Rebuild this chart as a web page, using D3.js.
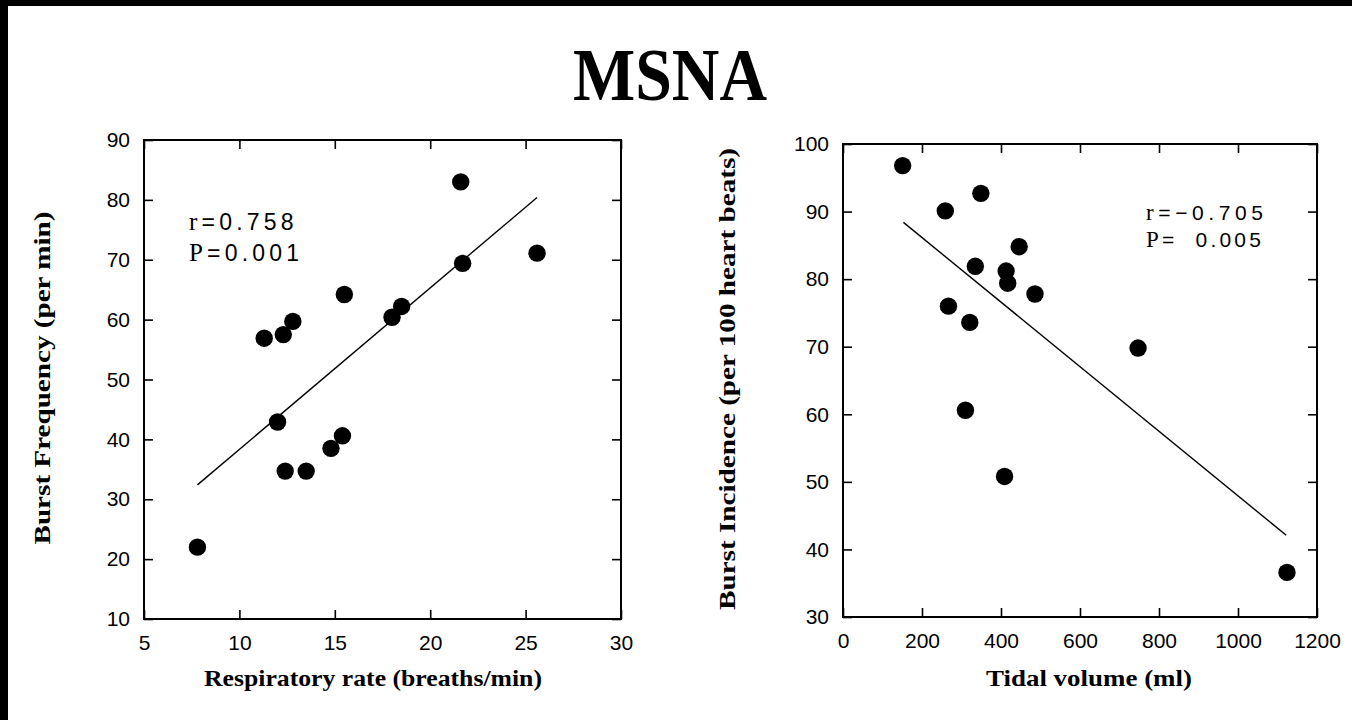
<!DOCTYPE html>
<html>
<head>
<meta charset="utf-8">
<script src="https://cdn.jsdelivr.net/npm/d3@7"></script>
<style>
  html, body { margin: 0; padding: 0; background: #fff; }
  svg { display: block; }
  text { fill: #000; }
</style>
</head>
<body>
<svg id="chart" width="1352" height="720"></svg>
<script>
// Panel A: respiratory rate vs burst frequency
const respRate   = [21.6, 25.6, 21.7, 15.5, 18.5, 18.0, 12.8, 12.3, 11.3, 12.0, 15.4, 14.8, 12.4, 13.5, 7.8];
const burstFreq  = [83.0, 71.1, 69.4, 64.2, 62.2, 60.4, 59.7, 57.5, 56.9, 42.9, 40.6, 38.5, 34.7, 34.7, 22.0];
const fitA       = [[7.8, 32.4], [25.6, 80.4]];
const ticksAx    = [5, 10, 15, 20, 25, 30];
const ticksAy    = [10, 20, 30, 40, 50, 60, 70, 80, 90];

// Panel B: tidal volume vs burst incidence
const tidalVol   = [151, 349, 259, 446, 335, 413, 417, 486, 267, 321, 747, 310, 409, 1124];
const burstInc   = [96.8, 92.7, 90.1, 84.8, 81.9, 81.2, 79.4, 77.8, 76.0, 73.6, 69.8, 60.6, 50.8, 36.6];
const fitB       = [[153, 88.4], [1122, 42.1]];
const ticksBx    = [0, 200, 400, 600, 800, 1000, 1200];
const ticksBy    = [30, 40, 50, 60, 70, 80, 90, 100];

const svg = d3.select("#chart");
const SANS = "'Liberation Sans', Arial, sans-serif";
const SERIF = "'Liberation Serif', 'Times New Roman', serif";

// scan border
svg.append("rect").attr("x", 0).attr("y", 0).attr("width", 1352).attr("height", 6).attr("fill", "#000");
svg.append("rect").attr("x", 0).attr("y", 0).attr("width", 8).attr("height", 720).attr("fill", "#000");

// title
svg.append("text")
  .attr("x", 670).attr("y", 100)
  .attr("text-anchor", "middle")
  .attr("font-family", SERIF).attr("font-weight", "bold")
  .attr("font-size", 74)
  .attr("textLength", 194).attr("lengthAdjust", "spacingAndGlyphs")
  .text("MSNA");

function panel(cfg) {
  const x = d3.scaleLinear().domain(cfg.xDomain).range([cfg.left, cfg.right]);
  const y = d3.scaleLinear().domain(cfg.yDomain).range([cfg.bottom, cfg.top]);
  const g = svg.append("g");
  const tick = 9;

  const styleAxis = sel => {
    sel.select(".domain").remove();
    sel.selectAll(".tick line").attr("stroke", "#000").attr("stroke-width", 1.6);
    sel.selectAll(".tick text")
      .attr("font-family", SANS).attr("font-size", 21).attr("fill", "#000");
  };

  g.append("g").attr("transform", `translate(0,${cfg.bottom})`)
    .call(d3.axisBottom(x).tickValues(cfg.xTicks).tickSizeInner(-tick).tickSizeOuter(0).tickPadding(16).tickFormat(d3.format("d")))
    .call(styleAxis);
  g.append("g").attr("transform", `translate(${cfg.left},0)`)
    .call(d3.axisLeft(y).tickValues(cfg.yTicks).tickSizeInner(-tick).tickSizeOuter(0).tickPadding(14).tickFormat(d3.format("d")))
    .call(styleAxis);
  g.append("g").attr("transform", `translate(0,${cfg.top})`)
    .call(d3.axisTop(x).tickValues(cfg.xTicks).tickSizeInner(-tick).tickSizeOuter(0).tickFormat(""))
    .call(styleAxis);
  g.append("g").attr("transform", `translate(${cfg.right},0)`)
    .call(d3.axisRight(y).tickValues(cfg.yTicks).tickSizeInner(-tick).tickSizeOuter(0).tickFormat(""))
    .call(styleAxis);

  // frame
  g.append("rect")
    .attr("x", cfg.left).attr("y", cfg.top)
    .attr("width", cfg.right - cfg.left).attr("height", cfg.bottom - cfg.top)
    .attr("fill", "none").attr("stroke", "#000").attr("stroke-width", 2);

  // regression line
  g.append("path")
    .datum(cfg.fit)
    .attr("d", d3.line().x(d => x(d[0])).y(d => y(d[1])))
    .attr("fill", "none").attr("stroke", "#000").attr("stroke-width", 1.4);

  // points
  g.selectAll("circle.pt")
    .data(d3.zip(cfg.xs, cfg.ys))
    .join("circle")
    .attr("class", "pt")
    .attr("cx", d => x(d[0])).attr("cy", d => y(d[1]))
    .attr("r", 8.7).attr("fill", "#000");

  // statistics
  cfg.stats.forEach(s => {
    const t = g.append("text")
      .attr("x", s.x).attr("y", s.y)
      .style("font-size", s.fs + "px")
      .style("letter-spacing", s.ls + "px")
      .style("white-space", "pre");
    t.append("tspan").style("font-family", SERIF).style("font-size", (s.fs + 2) + "px").text(s.label);
    t.append("tspan").style("font-family", SANS).text(s.value);
  });

  // axis titles
  g.append("text")
    .attr("x", cfg.xTitle.x).attr("y", cfg.xTitle.y)
    .attr("text-anchor", "middle")
    .attr("font-family", SERIF).attr("font-weight", "bold").attr("font-size", 23)
    .attr("textLength", cfg.xTitle.w).attr("lengthAdjust", "spacingAndGlyphs")
    .text(cfg.xTitle.text);
  g.append("text")
    .attr("transform", `translate(${cfg.yTitle.x},${cfg.yTitle.y}) rotate(-90)`)
    .attr("text-anchor", "middle")
    .attr("font-family", SERIF).attr("font-weight", "bold").attr("font-size", 23)
    .attr("textLength", cfg.yTitle.w).attr("lengthAdjust", "spacingAndGlyphs")
    .text(cfg.yTitle.text);
}

panel({
  left: 144, right: 621, top: 140, bottom: 619,
  xDomain: [5, 30], yDomain: [10, 90],
  xTicks: ticksAx, yTicks: ticksAy,
  xs: respRate, ys: burstFreq, fit: fitA,
  stats: [
    { x: 189, y: 230, fs: 23, ls: 4.2, label: "r", value: "=0.758" },
    { x: 189, y: 261, fs: 23, ls: 4.2, label: "P", value: "=0.001" }
  ],
  xTitle: { x: 373, y: 686, w: 338, text: "Respiratory rate (breaths/min)" },
  yTitle: { x: 50, y: 378, w: 333, text: "Burst Frequency (per min)" }
});

panel({
  left: 843, right: 1317, top: 144, bottom: 617,
  xDomain: [0, 1200], yDomain: [30, 100],
  xTicks: ticksBx, yTicks: ticksBy,
  xs: tidalVol, ys: burstInc, fit: fitB,
  stats: [
    { x: 1146, y: 220, fs: 21, ls: 4.6, label: "r", value: "=\u22120.705" },
    { x: 1146, y: 247, fs: 21, ls: 3.2, label: "P", value: "=\u00a0\u00a00.005" }
  ],
  xTitle: { x: 1089, y: 686, w: 206, text: "Tidal volume (ml)" },
  yTitle: { x: 735, y: 379, w: 462, text: "Burst Incidence (per 100 heart beats)" }
});
</script>
</body>
</html>
